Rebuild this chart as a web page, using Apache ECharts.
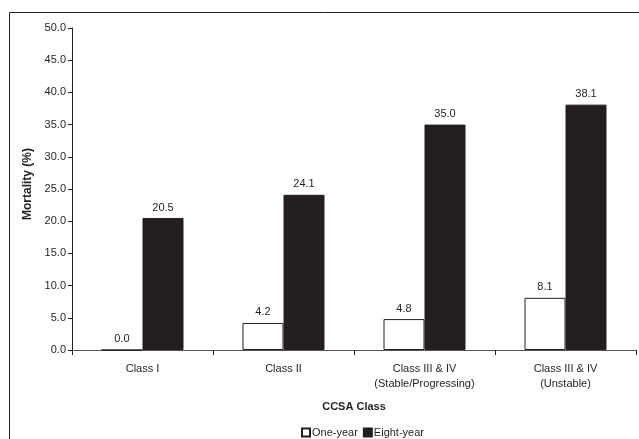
<!DOCTYPE html>
<html>
<head>
<meta charset="utf-8">
<script src="https://cdn.jsdelivr.net/npm/echarts@6/dist/echarts.min.js"></script>
<style>
  html, body { margin: 0; padding: 0; background: #fff; }
  #chart { width: 639px; height: 439px; }
</style>
</head>
<body>
<div id="chart"></div>
<script>
// Mortality by CCSA class, one-year vs eight-year
const categories = ['Class I', 'Class II', 'Class III & IV\n(Stable/Progressing)', 'Class III & IV\n(Unstable)'];
const oneYear = [0.0, 4.2, 4.8, 8.1];
const eightYear = [20.5, 24.1, 35.0, 38.1];
const yTicks = { min: 0, max: 50, interval: 5 };

const ink = '#231f20';
const font = 'Liberation Sans, Arial, sans-serif';

const chart = echarts.init(document.getElementById('chart'), null, { renderer: 'canvas' });

const valueLabel = {
  show: true,
  position: 'top',
  distance: 5,
  color: ink,
  fontFamily: font,
  fontSize: 11,
  formatter: p => p.value.toFixed(1)
};

chart.setOption({
  backgroundColor: '#fff',
  animation: false,
  textStyle: { fontFamily: font, color: ink },
  graphic: [{
    type: 'rect',
    shape: { x: 9.5, y: 12.5, width: 700, height: 500 },
    style: { fill: 'none', stroke: ink, lineWidth: 1 },
    silent: true
  }],
  grid: { left: 72, right: 3, top: 28, bottom: 89 },
  legend: {
    left: 296,
    top: 422,
    itemWidth: 8,
    itemHeight: 8,
    itemGap: 5,
    icon: 'rect',
    textStyle: { fontFamily: font, fontSize: 11, color: ink, padding: [0, 0, 0, -3] },
    data: ['One-year', 'Eight-year']
  },
  xAxis: {
    type: 'category',
    data: categories,
    name: 'CCSA Class',
    nameLocation: 'middle',
    nameGap: 51,
    nameTextStyle: { fontFamily: font, fontSize: 11, fontWeight: 'bold', color: ink },
    axisLine: { lineStyle: { color: '#555', width: 1 } },
    axisTick: { show: true, length: 5, alignWithLabel: false, lineStyle: { color: ink } },
    axisLabel: { fontFamily: font, fontSize: 11, color: ink, margin: 11, lineHeight: 15 }
  },
  yAxis: {
    type: 'value',
    min: yTicks.min,
    max: yTicks.max,
    interval: yTicks.interval,
    name: 'Mortality (%)',
    nameLocation: 'middle',
    nameGap: 35,
    nameTextStyle: { fontFamily: font, fontSize: 12, fontWeight: 'bold', color: ink, padding: [0, 0, 0, 10] },
    splitLine: { show: false },
    axisLine: { show: true, lineStyle: { color: ink, width: 1 } },
    axisTick: { show: true, length: 4, lineStyle: { color: ink } },
    axisLabel: { fontFamily: font, fontSize: 11, color: ink, margin: 6, formatter: v => v.toFixed(1) }
  },
  series: [
    {
      name: 'One-year',
      type: 'bar',
      data: oneYear,
      barWidth: 41,
      barGap: '0%',
      itemStyle: { color: '#fff', borderColor: ink, borderWidth: 1 },
      label: valueLabel
    },
    {
      name: 'Eight-year',
      type: 'bar',
      data: eightYear,
      barWidth: 41,
      barGap: '0%',
      itemStyle: { color: ink, borderColor: ink, borderWidth: 1 },
      label: valueLabel
    }
  ]
});
</script>
</body>
</html>
